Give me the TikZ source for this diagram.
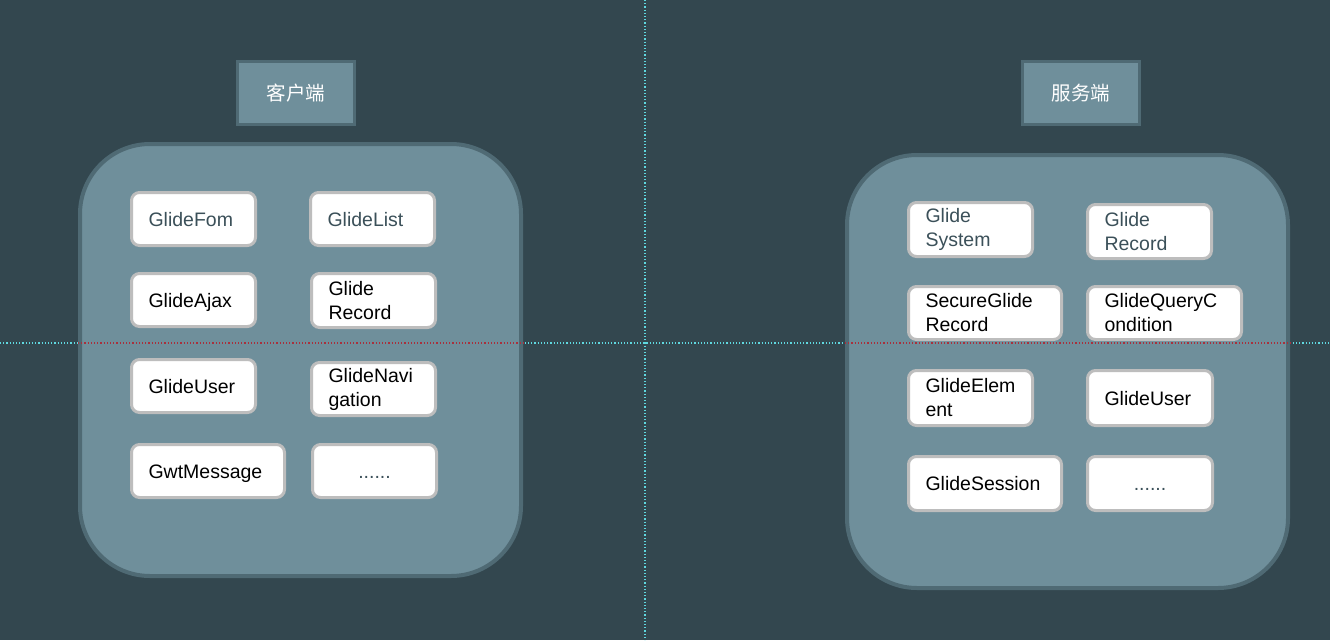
\documentclass[tikz,border=0pt]{standalone}
\usepackage{fontspec}
\setmainfont{Liberation Sans}
\newfontfamily\cjk{Noto Sans CJK SC}
\definecolor{bg}{HTML}{33474F}
\definecolor{panelfill}{HTML}{6F8F9B}
\definecolor{panelline}{HTML}{4F6A74}
\definecolor{boxline}{HTML}{BDBDBD}
\definecolor{slate}{HTML}{3B5059}
\definecolor{guidecyan}{HTML}{5FD8E0}
\definecolor{guidered}{HTML}{A8303C}
\tikzset{
  panel/.style={draw=panelline, fill=panelfill, line width=4pt, rounded corners=70pt, anchor=north west, inner sep=0pt},
  titlebox/.style={draw=panelline, fill=panelfill, line width=3pt, anchor=north west, inner sep=0pt,
    minimum width=117pt, minimum height=63pt, text=white, font=\cjk\fontsize{19.5}{24}\selectfont},
  item/.style={draw=boxline, fill=white, line width=3pt, rounded corners=8pt, anchor=north west,
    inner xsep=17pt, inner ysep=0pt, align=left, font=\fontsize{19.5}{24}\selectfont, text=black},
  oneline/.style={text height=16pt, text depth=2pt},
  dim/.style={text=slate},
  guide/.style={line width=1.2pt, dash pattern=on 1.2pt off 2pt},
}
\begin{document}
\begin{tikzpicture}[x=1pt,y=-1pt]
\useasboundingbox (0,0) rectangle (1330,640);
\fill[bg] (0,0) rectangle (1330,640);

% guides
\draw[guide, guidecyan] (645,0) -- (645,640);
\draw[guide, guidecyan] (0,343) -- (1330,343);

% panels
\node[panel, minimum width=441pt, minimum height=432pt] (client) at (78,142) {};
\node[panel, minimum width=441pt, minimum height=433pt] (server) at (845,153) {};

\draw[guide, guidered] (78,343) -- (523,343);
\draw[guide, guidered] (845,343) -- (1290,343);

% titles
\node[titlebox] (clientTitle) at (236,60) {客户端};
\node[titlebox] (serverTitle) at (1021,60) {服务端};

% client items
\node[item, oneline, dim, text width=90pt, minimum height=53pt] (cFom) at (130,191) {GlideFom};
\node[item, oneline, dim, text width=90pt, minimum height=53pt] (cList) at (309,191) {GlideList};
\node[item, oneline, text width=90pt, minimum height=53pt] (cAjax) at (130,272) {GlideAjax};
\node[item, text width=90pt, minimum height=54pt] (cRecord) at (310,272) {Glide\\Record};
\node[item, oneline, text width=90pt, minimum height=53pt] (cUser) at (130,358) {GlideUser};
\node[item, text width=90pt, minimum height=53pt] (cNav) at (310,361) {GlideNavi\\gation};
\node[item, oneline, text width=119pt, minimum height=53pt] (cGwt) at (130,443) {GwtMessage};
\node[item, oneline, dim, text width=90pt, minimum height=53pt, align=center] (cMore) at (311,443) {......};

% server items
\node[item, dim, text width=90pt, minimum height=54pt] (sSystem) at (907,201) {Glide\\System};
\node[item, dim, text width=90pt, minimum height=54pt] (sRecord) at (1086,203) {Glide\\Record};
\node[item, text width=119pt, minimum height=53pt] (sSecure) at (907,285) {SecureGlide\\Record};
\node[item, text width=120pt, minimum height=53pt] (sQuery) at (1086,285) {GlideQueryC\\ondition};
\node[item, text width=90pt, minimum height=55pt] (sElement) at (907,369) {GlideElem\\ent};
\node[item, oneline, text width=91pt, minimum height=55pt] (sUser) at (1086,369) {GlideUser};
\node[item, oneline, text width=119pt, minimum height=54pt] (sSession) at (907,455) {GlideSession};
\node[item, oneline, dim, text width=91pt, minimum height=54pt, align=center] (sMore) at (1086,455) {......};
\end{tikzpicture}
\end{document}
